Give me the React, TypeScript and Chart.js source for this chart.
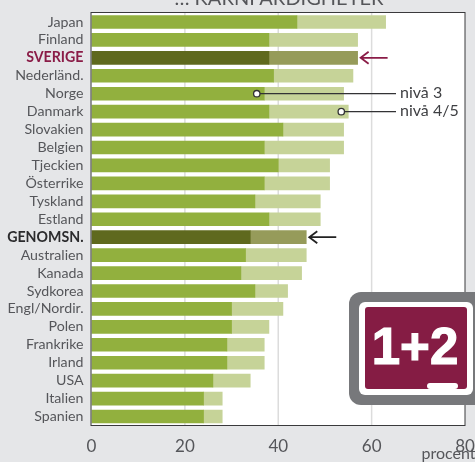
import React, { useEffect, useRef } from "react";
import { Chart, registerables } from "chart.js";

Chart.register(...registerables);

const categories = ["Japan","Finland","SVERIGE","Nederländ.","Norge","Danmark","Slovakien","Belgien","Tjeckien","Österrike","Tyskland","Estland","GENOMSN.","Australien","Kanada","Sydkorea","Engl/Nordir.","Polen","Frankrike","Irland","USA","Italien","Spanien"];
const level3 = [44,38,38,39,37,38,41,37,40,37,35,38,34,33,32,35,30,30,29,29,26,24,24];
const level45 = [19,19,19,17,17,17,13,17,11,14,14,11,12,13,13,7,11,8,8,8,8,4,4];
const xTicks = [0,20,40,60,80];
const titleText = "… KÄRNFÄRDIGHETER";
const unitText = "procent";
const callouts = [
  { label: "nivå 3", category: "Norge", value: 35.4 },
  { label: "nivå 4/5", category: "Danmark", value: 53.5 },
];
const arrows = [
  { category: "SVERIGE", value: 57, color: "#8a1c47" },
  { category: "GENOMSN.", value: 46, color: "#222222" },
];
const badgeText = "1+2";

const FONT = 'Lato';
const TEXT = "#55565a";
const isHi = (i: number) => categories[i] === "SVERIGE" || categories[i] === "GENOMSN.";

const overlay = {
  id: "overlay",
  beforeDatasetsDraw(chart: any) {
    const { ctx, chartArea: a } = chart;
    ctx.save();
    ctx.fillStyle = "#ffffff";
    ctx.fillRect(a.left, a.top, a.right - a.left, a.bottom - a.top);
    ctx.strokeStyle = "#dcdcdc";
    ctx.lineWidth = 1.5;
    [20, 40, 60].forEach((v) => {
      const x = chart.scales.x.getPixelForValue(v);
      ctx.beginPath();
      ctx.moveTo(x, a.top);
      ctx.lineTo(x, a.bottom);
      ctx.stroke();
    });
    ctx.restore();
  },
  afterDatasetsDraw(chart: any) {
    const { ctx, chartArea: a, scales } = chart;
    ctx.save();
    ctx.strokeStyle = "#3a3a3c";
    ctx.lineWidth = 1;
    ctx.strokeRect(a.left - 0.5, a.top - 0.5, a.right - a.left + 0.5, a.bottom - a.top + 0.5);

    // title (cut by the top edge, as in the reference)
    ctx.fillStyle = TEXT;
    ctx.font = `20px ${FONT}`;
    ctx.textAlign = "center";
    ctx.textBaseline = "alphabetic";
    ctx.fillText(titleText, 279, 5);

    // unit
    ctx.font = `16px ${FONT}`;
    ctx.textAlign = "right";
    ctx.fillText(unitText, 475.5, 459);

    // callouts
    callouts.forEach((c) => {
      const y = scales.y.getPixelForValue(categories.indexOf(c.category));
      const x = scales.x.getPixelForValue(c.value);
      ctx.strokeStyle = "#333335";
      ctx.lineWidth = 1.3;
      ctx.beginPath();
      ctx.moveTo(x, y);
      ctx.lineTo(396, y);
      ctx.stroke();
      ctx.beginPath();
      ctx.arc(x, y, 3.2, 0, Math.PI * 2);
      ctx.fillStyle = "#ffffff";
      ctx.fill();
      ctx.stroke();
      ctx.fillStyle = "#3e3f42";
      ctx.font = `16px ${FONT}`;
      ctx.textAlign = "left";
      ctx.textBaseline = "middle";
      ctx.fillText(c.label, 400, y - 1);
    });

    // arrows
    arrows.forEach((r) => {
      const y = scales.y.getPixelForValue(categories.indexOf(r.category));
      const x = scales.x.getPixelForValue(r.value) + 3;
      ctx.strokeStyle = r.color;
      ctx.lineWidth = 1.8;
      ctx.beginPath();
      ctx.moveTo(x + 27, y);
      ctx.lineTo(x, y);
      ctx.moveTo(x + 8, y - 6);
      ctx.lineTo(x, y);
      ctx.lineTo(x + 8, y + 6);
      ctx.stroke();
    });

    // badge
    const rr = (x: number, y: number, w: number, h: number, r: number, fill: string) => {
      ctx.beginPath();
      ctx.roundRect(x, y, w, h, r);
      ctx.fillStyle = fill;
      ctx.fill();
    };
    rr(349, 292, 140, 113, 12, "#77787b");
    rr(359, 302, 114, 93, 6, "#ffffff");
    rr(365, 307, 102, 82, 3, "#851c44");
    rr(427, 383, 31, 6, 3, "#ffffff");
    ctx.fillStyle = "#ffffff";
    ctx.font = `bold 51px "Liberation Sans"`;
    ctx.textAlign = "center";
    ctx.textBaseline = "alphabetic";
    ctx.lineWidth = 1.2;
    ctx.strokeStyle = "#ffffff";
    ctx.fillText(badgeText, 415, 364);
    ctx.strokeText(badgeText, 415, 364);
    ctx.restore();
  },
};

export default function App() {
  const ref = useRef<HTMLCanvasElement>(null);
  useEffect(() => {
    document.documentElement.style.background = "#e5e6e8";
    document.body.style.background = "#e5e6e8";
    const chart = new Chart(ref.current!, {
      type: "bar",
      data: {
        labels: categories,
        datasets: [
          {
            label: "nivå 3",
            data: level3,
            backgroundColor: categories.map((_, i) => (isHi(i) ? "#5f691e" : "#92b03e")),
            barThickness: 13,
            borderWidth: 0,
          },
          {
            label: "nivå 4/5",
            data: level45,
            backgroundColor: categories.map((_, i) => (isHi(i) ? "#969b5a" : "#c6d398")),
            barThickness: 13,
            borderWidth: 0,
          },
        ],
      },
      options: {
        indexAxis: "y",
        animation: false,
        responsive: false,
        layout: { autoPadding: false, padding: { top: 13, right: 10, left: 0, bottom: 0 } },
        plugins: { legend: { display: false }, tooltip: { enabled: false } },
        scales: {
          x: {
            stacked: true,
            min: 0,
            max: 80,
            afterBuildTicks: (s: any) => { s.ticks = xTicks.map((value) => ({ value })); },
            afterFit: (s: any) => { s.height = 36.5; s.paddingLeft = 0; s.paddingRight = 0; },
            grid: { display: false },
            border: { display: false },
            ticks: { color: TEXT, font: { family: FONT, size: 17 }, padding: 3, maxRotation: 0, autoSkip: false },
          },
          y: {
            stacked: true,
            afterFit: (s: any) => { s.width = 91.5; s.paddingTop = 0; s.paddingBottom = 0; },
            grid: { display: false },
            border: { display: false },
            ticks: {
              autoSkip: false,
              padding: 0,
              color: (c: any) => (categories[c.index] === "SVERIGE" ? "#8a1c47" : categories[c.index] === "GENOMSN." ? "#2b2b2d" : TEXT),
              font: (c: any) => ({ family: FONT, size: 14.2, weight: isHi(c.index) ? "bold" : "normal" }),
            },
          },
        },
      },
      plugins: [overlay],
    } as any);
    return () => chart.destroy();
  }, []);
  return <canvas ref={ref} width={475} height={462} style={{ position: "absolute", left: 0, top: 0, width: 475, height: 462, background: "#e5e6e8" }} />;
}
